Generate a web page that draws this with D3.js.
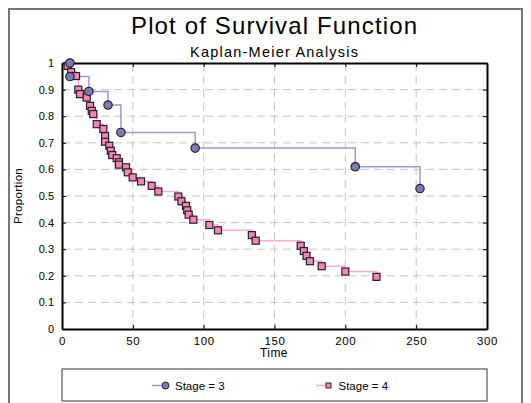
<!DOCTYPE html>
<html>
<head>
<meta charset="utf-8">
<script src="https://cdn.jsdelivr.net/npm/d3@7"></script>
<style>
  body { margin: 0; background: #fff; }
  svg { display: block; font-family: Arial, "Liberation Sans", sans-serif; }
</style>
</head>
<body>
<svg id="chart" width="531" height="403"></svg>
<script>
// ---- data ----
const stage3Time = [5.6, 5.6, 19, 32.5, 41.6, 94, 207, 252.7];
const stage3Surv = [1.0, 0.949, 0.893, 0.842, 0.739, 0.680, 0.610, 0.528];

const stage4Time = [4.0, 6.4, 9.9, 11.5, 12.7, 17.4, 19.8, 21.0, 22.1, 24.5, 29.2, 30.4, 30.4,
  33.4, 34.4, 35.5, 38.6, 40.2, 40.2, 45.2, 46.4, 49.9, 55.8, 63.3, 68.0, 82.1, 84.3, 87.5,
  88.4, 89.4, 92.7, 104.0, 110.1, 134.0, 136.7, 168.5, 170.7, 172.6, 175.0, 183.3, 200.0, 222.0];
const stage4Surv = [0.989, 0.966, 0.951, 0.900, 0.883, 0.870, 0.839, 0.820, 0.808, 0.770, 0.752, 0.725, 0.704,
  0.689, 0.670, 0.654, 0.642, 0.627, 0.618, 0.608, 0.589, 0.570, 0.555, 0.538, 0.517, 0.498, 0.480, 0.463,
  0.446, 0.430, 0.411, 0.391, 0.371, 0.353, 0.332, 0.313, 0.293, 0.275, 0.255, 0.236, 0.216, 0.196];

const xTicks = [0, 50, 100, 150, 200, 250, 300];
const yTicks = [0, 0.1, 0.2, 0.3, 0.4, 0.5, 0.6, 0.7, 0.8, 0.9, 1];
const yTickLabels = ["0", "0.1", "0.2", "0.3", "0.4", "0.5", "0.6", "0.7", "0.8", "0.9", "1"];
const seriesNames = ["Stage = 3", "Stage = 4"];

const titleText = "Plot of Survival Function";
const subtitleText = "Kaplan-Meier Analysis";
const xLabel = "Time";
const yLabel = "Proportion";

// ---- layout ----
const svg = d3.select("#chart");
const L = 62, R = 487, T = 63, B = 329;
const x = d3.scaleLinear().domain([0, 300]).range([L, R]);
const y = d3.scaleLinear().domain([0, 1]).range([B, T]);

const c3 = { line: "#9a9ad8", fill: "#7a7abb" };
const c4 = { line: "#ffaad2", fill: "#f984bb" };

// outer frame
svg.append("rect").attr("x", 9).attr("y", 9).attr("width", 513).attr("height", 410)
  .attr("fill", "none").attr("stroke", "#777").attr("stroke-width", 2);

// title
svg.append("text").attr("x", 274).attr("y", 34).attr("text-anchor", "middle")
  .attr("font-size", 24).attr("textLength", 286).attr("lengthAdjust", "spacing").text(titleText);
svg.append("text").attr("x", 274).attr("y", 57).attr("text-anchor", "middle")
  .attr("font-size", 14.5).attr("textLength", 168).attr("lengthAdjust", "spacing").text(subtitleText);

// gridlines
const grid = svg.append("g").attr("stroke", "#c4c4c4").attr("stroke-width", 1)
  .attr("stroke-dasharray", "8,5");
grid.selectAll(".gx").data(xTicks.filter(d => d > 0 && d < 300)).enter().append("line")
  .attr("x1", d => x(d)).attr("x2", d => x(d)).attr("y1", T).attr("y2", B);
grid.selectAll(".gy").data(yTicks.filter(d => d > 0 && d < 1)).enter().append("line")
  .attr("y1", d => y(d)).attr("y2", d => y(d)).attr("x1", L).attr("x2", R);

// axes
const axB = svg.append("g").attr("transform", `translate(0,${B})`)
  .call(d3.axisBottom(x).tickValues(xTicks).tickSizeInner(-4).tickSizeOuter(0).tickPadding(8)
    .tickFormat(d3.format("d")));
const axT = svg.append("g").attr("transform", `translate(0,${T})`)
  .call(d3.axisTop(x).tickValues(xTicks).tickSizeInner(-4).tickSizeOuter(0).tickFormat(""));
const axL = svg.append("g").attr("transform", `translate(${L},0)`)
  .call(d3.axisLeft(y).tickValues(yTicks).tickSizeInner(-4).tickSizeOuter(0).tickPadding(8)
    .tickFormat((d, i) => yTickLabels[i]));
const axR = svg.append("g").attr("transform", `translate(${R},0)`)
  .call(d3.axisRight(y).tickValues(yTicks).tickSizeInner(-4).tickSizeOuter(0).tickFormat(""));
[axB, axT, axL, axR].forEach(g => {
  g.selectAll("path").attr("stroke", "#000").attr("stroke-width", 2);
  g.selectAll("line").attr("stroke", "#000").attr("stroke-width", 1);
  g.selectAll("text").attr("font-size", 11).attr("fill", "#000")
    .attr("font-family", "Arial, 'Liberation Sans', sans-serif");
});
axB.selectAll("text").attr("font-size", 11.5).attr("letter-spacing", 0.6);

// axis labels
svg.append("text").attr("x", 274).attr("y", 357).attr("text-anchor", "middle")
  .attr("font-size", 12).attr("letter-spacing", 0.4).text(xLabel);
svg.append("text").attr("transform", "translate(22,196) rotate(-90)").attr("text-anchor", "middle")
  .attr("font-size", 11.5).attr("letter-spacing", 0.3).text(yLabel);

// lines
const s3 = stage3Time.map((t, i) => [t, stage3Surv[i]]);
const s4 = stage4Time.map((t, i) => [t, stage4Surv[i]]);
const line = d3.line().x(d => x(d[0])).y(d => y(d[1])).curve(d3.curveStepAfter);

svg.append("path").datum(s4).attr("d", line).attr("fill", "none")
  .attr("stroke", c4.line).attr("stroke-width", 1.5);
svg.append("path").datum(s3).attr("d", line).attr("fill", "none")
  .attr("stroke", c3.line).attr("stroke-width", 1.5);

// markers
svg.append("g").selectAll("rect").data(s4).enter().append("rect")
  .attr("x", d => x(d[0]) - 3.5).attr("y", d => y(d[1]) - 3.5)
  .attr("width", 7).attr("height", 7)
  .attr("fill", c4.fill).attr("stroke", "#222").attr("stroke-width", 1.2);
svg.append("g").selectAll("circle").data(s3).enter().append("circle")
  .attr("cx", d => x(d[0])).attr("cy", d => y(d[1])).attr("r", 4.2)
  .attr("fill", c3.fill).attr("stroke", "#222").attr("stroke-width", 1.2);

// legend
const lg = svg.append("g");
lg.append("rect").attr("x", L).attr("y", 369).attr("width", R - L).attr("height", 32)
  .attr("fill", "#fff").attr("stroke", "#555").attr("stroke-width", 1.2);
const ly = 385.5;
// stage 3
lg.append("line").attr("x1", 152).attr("x2", 165).attr("y1", ly).attr("y2", ly)
  .attr("stroke", c3.line).attr("stroke-width", 1.5);
lg.append("circle").attr("cx", 165.5).attr("cy", ly).attr("r", 3.5)
  .attr("fill", c3.fill).attr("stroke", "#222").attr("stroke-width", 1);
lg.append("text").attr("x", 175).attr("y", ly + 4).attr("font-size", 11.5).text(seriesNames[0]);
// stage 4
lg.append("line").attr("x1", 316).attr("x2", 328).attr("y1", ly).attr("y2", ly)
  .attr("stroke", c4.line).attr("stroke-width", 1.5);
lg.append("rect").attr("x", 326).attr("y", ly - 2.5).attr("width", 5).attr("height", 5)
  .attr("fill", c4.fill).attr("stroke", "#222").attr("stroke-width", 1);
lg.append("text").attr("x", 338.5).attr("y", ly + 4).attr("font-size", 11.5).text(seriesNames[1]);
</script>
</body>
</html>
